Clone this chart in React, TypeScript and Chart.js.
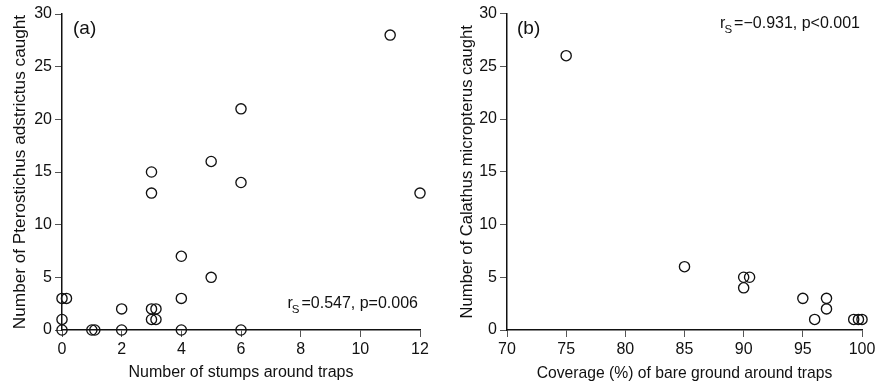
import { useEffect, useRef } from 'react';
import { Chart, registerables } from 'chart.js';

Chart.register(...registerables);

// Panel (a)
const stumps = [0, 0.15, 0, 0, 1, 1.1, 2, 2, 3, 3, 3, 3.15, 3, 3.15, 4, 4, 4, 5, 5, 6, 6, 6, 11, 12];
const pterostichus = [3, 3, 1, 0, 0, 0, 0, 2, 15, 13, 2, 2, 1, 1, 7, 3, 0, 16, 5, 21, 14, 0, 28, 13];
// Panel (b)
const coverage = [75, 85, 90, 90.5, 90, 95, 97, 97, 96, 99.3, 99.7, 100];
const calathus = [26, 6, 5, 5, 4, 3, 3, 2, 1, 1, 1, 1];

const FONT = "'Liberation Sans', Arial, Helvetica, sans-serif";
const INK = '#111';

interface PanelCfg {
  xs: number[];
  ys: number[];
  xMin: number;
  xMax: number;
  xStep: number;
  xTitle: string;
  xTitleSize: number;
  yTitle: string;
  yTitleSize: number;
  yWidth: number;
  yTitlePad: number;
  top: number;
  tag: string;
  tagDx: number;
  statValue: string;
  statFromBottom: boolean;
}

function makePlugin(cfg: PanelCfg) {
  return {
    id: 'annot',
    afterDraw(chart: any) {
      const { ctx, chartArea } = chart;
      ctx.save();
      ctx.fillStyle = INK;
      // panel tag
      ctx.font = `19px ${FONT}`;
      ctx.textAlign = 'left';
      ctx.textBaseline = 'middle';
      ctx.fillText(cfg.tag, chartArea.left + cfg.tagDx, 29);
      // statistic with subscript
      ctx.textBaseline = 'alphabetic';
      ctx.font = `16px ${FONT}`;
      const wr = ctx.measureText('r').width;
      const wRest = ctx.measureText(cfg.statValue).width;
      ctx.font = `11.5px ${FONT}`;
      const wS = ctx.measureText('S').width;
      const endX = chartArea.right - 2;
      const baseY = cfg.statFromBottom ? chartArea.bottom - 22 : 28;
      let x = endX - (wr + wS + 1 + wRest);
      ctx.font = `16px ${FONT}`;
      ctx.fillText('r', x, baseY);
      x += wr - 1;
      ctx.font = `11.5px ${FONT}`;
      ctx.fillText('S', x, baseY + 5);
      x += wS + 2;
      ctx.font = `16px ${FONT}`;
      ctx.fillText(cfg.statValue, x, baseY);
      ctx.restore();
    },
  };
}

function makeChart(canvas: HTMLCanvasElement, cfg: PanelCfg) {
  const data = cfg.xs.map((x, i) => ({ x, y: cfg.ys[i] }));
  return new Chart(canvas, {
    type: 'scatter',
    data: {
      datasets: [
        {
          data,
          pointStyle: 'circle',
          pointRadius: 5.1,
          pointHoverRadius: 5.1,
          borderColor: INK,
          borderWidth: 1.35,
          backgroundColor: 'rgba(0,0,0,0)',
          showLine: false,
          clip: false as any,
        },
      ],
    },
    options: {
      animation: false,
      responsive: false,
      events: [],
      layout: { padding: { left: 0, right: 22, top: cfg.top, bottom: 0 } },
      plugins: { legend: { display: false }, tooltip: { enabled: false } },
      scales: {
        x: {
          type: 'linear',
          min: cfg.xMin,
          max: cfg.xMax,
          ticks: {
            stepSize: cfg.xStep,
            color: INK,
            font: { family: FONT, size: 16 },
            padding: 3,
            maxRotation: 0,
          },
          grid: {
            display: true,
            drawOnChartArea: false,
            drawTicks: true,
            tickLength: 7,
            color: '#555',
            lineWidth: 1,
          },
          border: { display: true, color: INK, width: 1.5 },
          title: {
            display: true,
            text: cfg.xTitle,
            color: INK,
            font: { family: FONT, size: cfg.xTitleSize },
            padding: { top: 0, bottom: 3.4 },
          },
          afterFit: (s: any) => {
            s.height = 56;
          },
        },
        y: {
          type: 'linear',
          min: 0,
          max: 30,
          ticks: {
            stepSize: 5,
            color: INK,
            font: { family: FONT, size: 16 },
            padding: 3,
          },
          grid: {
            display: true,
            drawOnChartArea: false,
            drawTicks: true,
            tickLength: 7,
            color: '#555',
            lineWidth: 1,
          },
          border: { display: true, color: INK, width: 1.5 },
          title: {
            display: true,
            text: cfg.yTitle,
            color: INK,
            font: { family: FONT, size: cfg.yTitleSize },
            padding: { top: cfg.yTitlePad, bottom: 0 },
          },
          afterFit: (s: any) => {
            s.width = cfg.yWidth;
          },
        },
      },
    },
    plugins: [makePlugin(cfg)],
  } as any);
}

export default function App() {
  const leftRef = useRef<HTMLCanvasElement>(null);
  const rightRef = useRef<HTMLCanvasElement>(null);

  useEffect(() => {
    const a = makeChart(leftRef.current!, {
      xs: stumps,
      ys: pterostichus,
      xMin: 0,
      xMax: 12,
      xStep: 2,
      xTitle: 'Number of stumps around traps',
      xTitleSize: 16,
      yTitle: 'Number of Pterostichus adstrictus caught',
      yTitleSize: 17.2,
      yWidth: 62,
      yTitlePad: 9.6,
      top: 14,
      tag: '(a)',
      tagDx: 11,
      statValue: '=0.547, p=0.006',
      statFromBottom: true,
    });
    const b = makeChart(rightRef.current!, {
      xs: coverage,
      ys: calathus,
      xMin: 70,
      xMax: 100,
      xStep: 5,
      xTitle: 'Coverage (%) of bare ground around traps',
      xTitleSize: 15.7,
      yTitle: 'Number of Calathus micropterus caught',
      yTitleSize: 16.6,
      yWidth: 65,
      yTitlePad: 15.5,
      top: 13.5,
      tag: '(b)',
      tagDx: 10,
      statValue: '=\u22120.931, p<0.001',
      statFromBottom: false,
    });
    return () => {
      a.destroy();
      b.destroy();
    };
  }, []);

  return (
    <div
      style={{
        position: 'fixed',
        left: 0,
        top: 0,
        width: 884,
        height: 386,
        background: '#fff',
      }}
    >
      <canvas
        ref={leftRef}
        width={442}
        height={386}
        style={{ position: 'absolute', left: 0, top: 0, width: 442, height: 386 }}
      />
      <canvas
        ref={rightRef}
        width={442}
        height={386}
        style={{ position: 'absolute', left: 442, top: 0, width: 442, height: 386 }}
      />
    </div>
  );
}
